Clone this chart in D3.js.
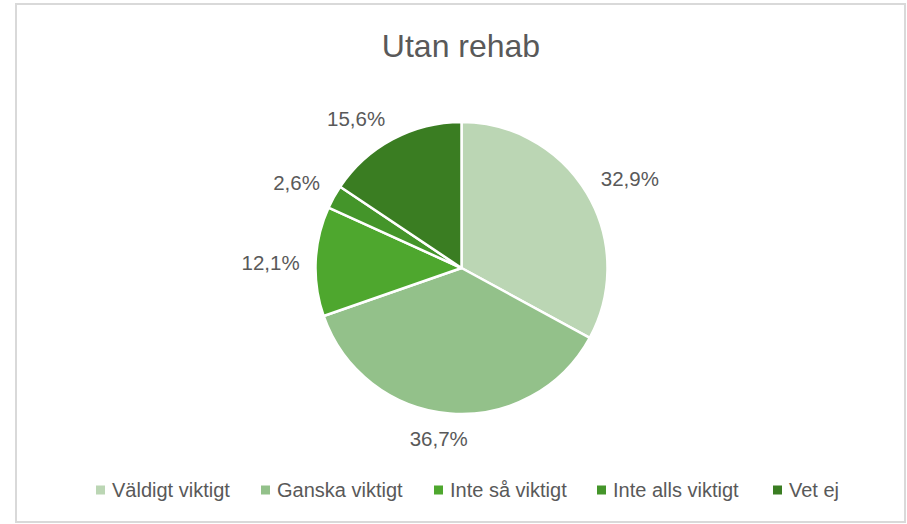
<!DOCTYPE html>
<html>
<head>
<meta charset="utf-8">
<script src="https://cdn.jsdelivr.net/npm/d3@7"></script>
<style>
  body { margin: 0; background: #fff; }
  svg text { font-family: "Liberation Sans", Arial, sans-serif; }
</style>
</head>
<body>
<div id="chart"></div>
<script>
const title = "Utan rehab";
const categories = ["Väldigt viktigt", "Ganska viktigt", "Inte så viktigt", "Inte alls viktigt", "Vet ej"];
const values = [32.9, 36.7, 12.1, 2.6, 15.6];
const colors = ["#bbd6b4", "#93c18a", "#4ea72e", "#44952a", "#3a7d22"];

const width = 907, height = 524;
const svg = d3.select("#chart").append("svg")
  .attr("width", width)
  .attr("height", height);

// chart frame
svg.append("rect")
  .attr("x", 16).attr("y", 4)
  .attr("width", 889).attr("height", 518)
  .attr("fill", "#fff")
  .attr("stroke", "#d9d9d9")
  .attr("stroke-width", 2);

svg.append("text")
  .attr("x", 461).attr("y", 57)
  .attr("text-anchor", "middle")
  .attr("font-size", 32)
  .attr("fill", "#595959")
  .text(title);

const cx = 461.5, cy = 268, radius = 146;
const data = categories.map((c, i) => ({ name: c, value: values[i], color: colors[i] }));

const pie = d3.pie().sort(null).value(d => d.value);
const arc = d3.arc().innerRadius(0).outerRadius(radius);
const arcs = pie(data);

const g = svg.append("g").attr("transform", `translate(${cx},${cy})`);

g.selectAll("path")
  .data(arcs)
  .join("path")
  .attr("d", arc)
  .attr("fill", d => d.data.color)
  .attr("stroke", "#fff")
  .attr("stroke-width", 2.5)
  .attr("stroke-linejoin", "round");

// labels outside end: box pushed off a point just beyond the rim
const fmt = v => v.toFixed(1).replace(".", ",") + "%";
const labelR = radius + 16;
const clamp = v => Math.max(-1, Math.min(1, v));
g.selectAll("text.lbl")
  .data(arcs)
  .join("text")
  .attr("class", "lbl")
  .attr("font-size", 20.5)
  .attr("fill", "#595959")
  .attr("text-anchor", "middle")
  .attr("dominant-baseline", "central")
  .text(d => fmt(d.data.value))
  .each(function (d) {
    const a = (d.startAngle + d.endAngle) / 2;
    const ux = Math.sin(a), uy = -Math.cos(a);
    const b = this.getBBox();
    const x = labelR * ux + b.width / 2 * clamp(ux * 4);
    const y = labelR * uy + 10 * clamp(uy * 2) + 3 - 4 * Math.max(0, uy);
    d3.select(this).attr("x", x).attr("y", y);
  });

// legend
const legendX = [96, 261, 434, 597, 773];
const items = svg.append("g").selectAll("g")
  .data(data)
  .join("g")
  .attr("transform", (d, i) => `translate(${legendX[i]},490)`);
items.append("rect")
  .attr("x", 0).attr("y", -4.5)
  .attr("width", 9).attr("height", 9)
  .attr("fill", d => d.color);
items.append("text")
  .attr("x", 16).attr("y", 0)
  .attr("dominant-baseline", "central")
  .attr("font-size", 20)
  .attr("fill", "#595959")
  .text(d => d.name);
</script>
</body>
</html>
